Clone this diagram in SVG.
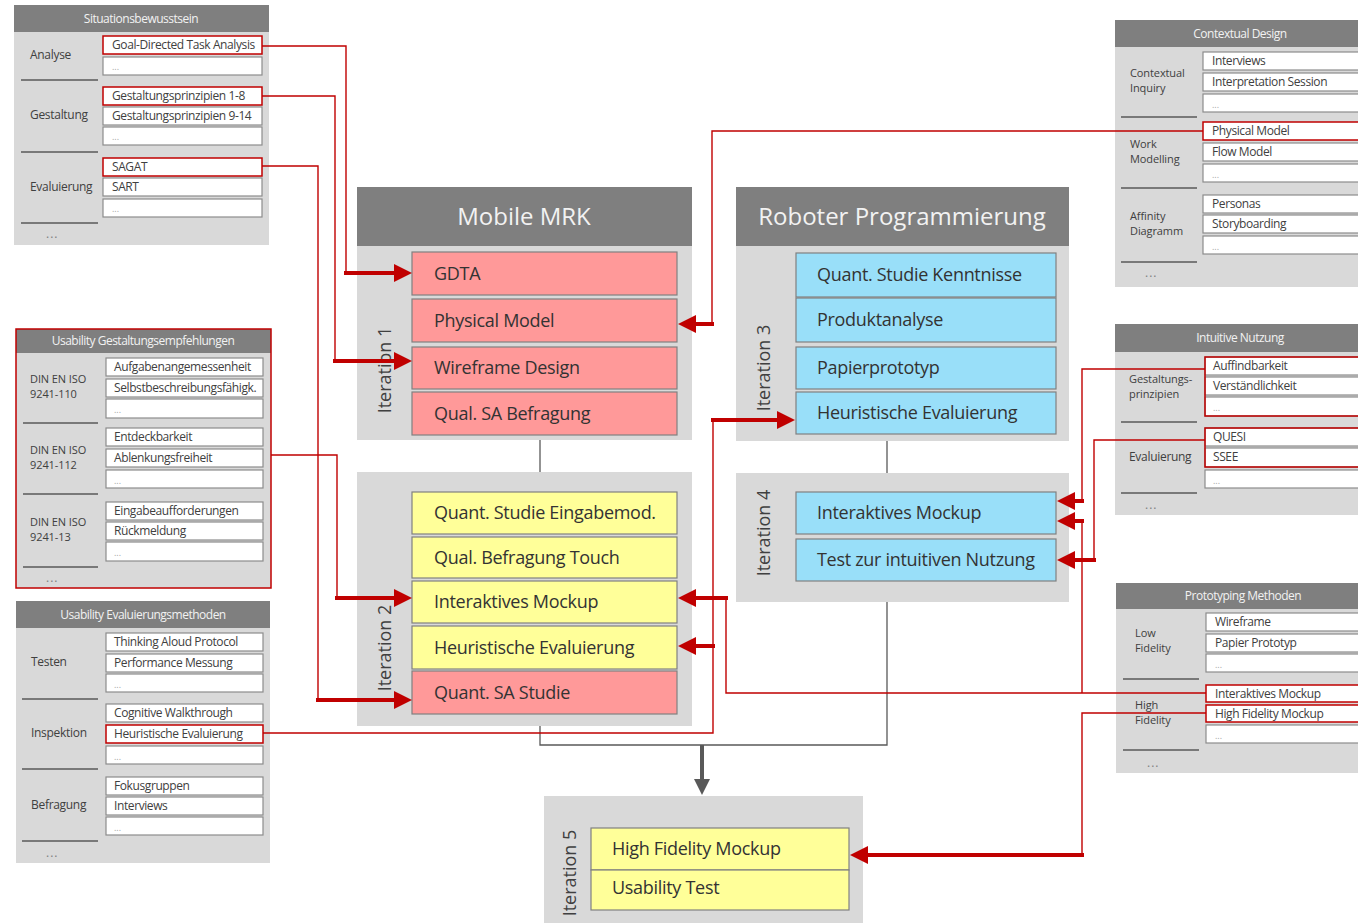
<svg xmlns="http://www.w3.org/2000/svg" width="1358" height="923" viewBox="0 0 1358 923">
  <defs>
    <style>
      .panel { fill: #d9d9d9; }
      .head { fill: #7f7f7f; }
      .htxt { font-family: "Open Sans", "Noto Sans", sans-serif; font-size: 12px; fill: #f2f2f2; text-anchor: middle; letter-spacing: -0.5px; }
      .title { font-family: "Open Sans", "Noto Sans", sans-serif; font-size: 24px; fill: #f2f2f2; text-anchor: middle; }
      .item { fill: #ffffff; stroke: #8c8c8c; stroke-width: 1.2; }
      .itemr { fill: #ffffff; stroke: #c00000; stroke-width: 1.5; }
      .grp { fill: none; stroke: #c00000; stroke-width: 1.5; }
      .itxt { font-family: "Open Sans", "Noto Sans", sans-serif; font-size: 12px; fill: #404040; letter-spacing: -0.4px; }
      .dots { font-family: "Open Sans", "Noto Sans", sans-serif; font-size: 9px; fill: #a6a6a6; }
      .lbl { font-family: "Open Sans", "Noto Sans", sans-serif; font-size: 12px; fill: #404040; letter-spacing: -0.3px; }
      .lbl2 { font-family: "Open Sans", "Noto Sans", sans-serif; font-size: 11px; fill: #404040; letter-spacing: -0.1px; }
      .more { font-family: "Open Sans", "Noto Sans", sans-serif; font-size: 12px; fill: #7f7f7f; letter-spacing: 1px; }
      .sep { stroke: #595959; stroke-width: 1.5; }
      .box { stroke: #808080; stroke-width: 1.2; }
      .red { fill: #ff9999; }
      .yel { fill: #ffff99; }
      .blu { fill: #99dff9; }
      .btxt { font-family: "Open Sans", "Noto Sans", sans-serif; font-size: 18px; fill: #333333; letter-spacing: -0.3px; }
      .iter { font-family: "Open Sans", "Noto Sans", sans-serif; font-size: 18px; fill: #404040; text-anchor: middle; }
      .thin { fill: none; stroke: #c00000; stroke-width: 1.4; }
      .thick { fill: none; stroke: #c00000; stroke-width: 4; marker-end: url(#ah); }
      .gray { fill: none; stroke: #595959; stroke-width: 1.3; }
    </style>
    <marker id="ah" viewBox="0 0 10 10" refX="0" refY="5" markerWidth="4.5" markerHeight="4.5" orient="auto" markerUnits="strokeWidth">
      <path d="M0,0 L10,5 L0,10 z" fill="#c00000"/>
    </marker>
    <marker id="ahg" viewBox="0 0 10 10" refX="0" refY="5" markerWidth="4" markerHeight="4.5" orient="auto" markerUnits="strokeWidth">
      <path d="M0,0 L10,5 L0,10 z" fill="#595959"/>
    </marker>
  </defs>

  <rect width="1358" height="923" fill="#ffffff"/>

  <!-- process flow lines between iterations -->
  <g id="flow">
    <path class="gray" d="M540,440 V472"/>
    <path class="gray" d="M887,441 V473"/>
    <path class="gray" d="M540,726 V745 H887 V602"/>
    <path d="M702,745 V779" fill="none" stroke="#595959" stroke-width="4" marker-end="url(#ahg)"/>
  </g>

  <!-- Situationsbewusstsein -->
  <g id="situationsbewusstsein">
    <rect class="panel" x="14" y="5" width="255" height="240"/>
    <rect class="head" x="14" y="5" width="255" height="27"/>
    <text class="htxt" x="141" y="23">Situationsbewusstsein</text>
    <text class="lbl" x="30" y="59">Analyse</text>
    <text class="lbl" x="30" y="119">Gestaltung</text>
    <text class="lbl" x="30" y="191">Evaluierung</text>
    <text class="more" x="46" y="238">...</text>
    <line class="sep" x1="21" y1="80" x2="98" y2="80"/>
    <line class="sep" x1="21" y1="152" x2="98" y2="152"/>
    <line class="sep" x1="21" y1="223" x2="98" y2="223"/>
    <rect class="itemr" x="103" y="36" width="159" height="18"/>
    <text class="itxt" x="112" y="49">Goal-Directed Task Analysis</text>
    <rect class="item" x="103" y="57" width="159" height="18"/>
    <text class="dots" x="112" y="70">...</text>
    <rect class="itemr" x="103" y="87" width="159" height="18"/>
    <text class="itxt" x="112" y="100">Gestaltungsprinzipien 1-8</text>
    <rect class="item" x="103" y="107" width="159" height="18"/>
    <text class="itxt" x="112" y="120">Gestaltungsprinzipien 9-14</text>
    <rect class="item" x="103" y="127" width="159" height="18"/>
    <text class="dots" x="112" y="140">...</text>
    <rect class="itemr" x="103" y="158" width="159" height="18"/>
    <text class="itxt" x="112" y="171">SAGAT</text>
    <rect class="item" x="103" y="178" width="159" height="18"/>
    <text class="itxt" x="112" y="191">SART</text>
    <rect class="item" x="103" y="199" width="159" height="18"/>
    <text class="dots" x="112" y="212">...</text>
  </g>

  <!-- Usability Gestaltungsempfehlungen -->
  <g id="gestaltungsempfehlungen">
    <rect class="panel" x="16" y="329" width="255" height="259"/>
    <rect class="head" x="16" y="329" width="255" height="24"/>
    <rect x="16" y="329" width="255" height="259" fill="none" stroke="#c00000" stroke-width="1.5"/>
    <text class="htxt" x="143" y="345">Usability Gestaltungsempfehlungen</text>
    <text class="lbl2" x="30" y="383">DIN EN ISO</text>
    <text class="lbl2" x="30" y="398">9241-110</text>
    <text class="lbl2" x="30" y="454">DIN EN ISO</text>
    <text class="lbl2" x="30" y="469">9241-112</text>
    <text class="lbl2" x="30" y="526">DIN EN ISO</text>
    <text class="lbl2" x="30" y="541">9241-13</text>
    <text class="more" x="46" y="582">...</text>
    <line class="sep" x1="23" y1="423" x2="98" y2="423"/>
    <line class="sep" x1="23" y1="494" x2="98" y2="494"/>
    <line class="sep" x1="23" y1="567" x2="98" y2="567"/>
    <rect class="item" x="106" y="358" width="157" height="18"/>
    <text class="itxt" x="114" y="371">Aufgabenangemessenheit</text>
    <rect class="item" x="106" y="379" width="157" height="18"/>
    <text class="itxt" x="114" y="392">Selbstbeschreibungsfähigk.</text>
    <rect class="item" x="106" y="399" width="157" height="19"/>
    <text class="dots" x="114" y="413">...</text>
    <rect class="item" x="106" y="428" width="157" height="18"/>
    <text class="itxt" x="114" y="441">Entdeckbarkeit</text>
    <rect class="item" x="106" y="449" width="157" height="18"/>
    <text class="itxt" x="114" y="462">Ablenkungsfreiheit</text>
    <rect class="item" x="106" y="470" width="157" height="18"/>
    <text class="dots" x="114" y="484">...</text>
    <rect class="item" x="106" y="502" width="157" height="18"/>
    <text class="itxt" x="114" y="515">Eingabeaufforderungen</text>
    <rect class="item" x="106" y="522" width="157" height="18"/>
    <text class="itxt" x="114" y="535">Rückmeldung</text>
    <rect class="item" x="106" y="542" width="157" height="19"/>
    <text class="dots" x="114" y="556">...</text>
  </g>

  <!-- Usability Evaluierungsmethoden -->
  <g id="evaluierungsmethoden">
    <rect class="panel" x="16" y="601" width="254" height="262"/>
    <rect class="head" x="16" y="601" width="254" height="27"/>
    <text class="htxt" x="143" y="619">Usability Evaluierungsmethoden</text>
    <text class="lbl" x="31" y="666">Testen</text>
    <text class="lbl" x="31" y="737">Inspektion</text>
    <text class="lbl" x="31" y="809">Befragung</text>
    <text class="more" x="46" y="857">...</text>
    <line class="sep" x1="22" y1="699" x2="98" y2="699"/>
    <line class="sep" x1="22" y1="769" x2="98" y2="769"/>
    <line class="sep" x1="22" y1="841" x2="98" y2="841"/>
    <rect class="item" x="106" y="633" width="157" height="18"/>
    <text class="itxt" x="114" y="646">Thinking Aloud Protocol</text>
    <rect class="item" x="106" y="654" width="157" height="18"/>
    <text class="itxt" x="114" y="667">Performance Messung</text>
    <rect class="item" x="106" y="674" width="157" height="18"/>
    <text class="dots" x="114" y="688">...</text>
    <rect class="item" x="106" y="704" width="157" height="18"/>
    <text class="itxt" x="114" y="717">Cognitive Walkthrough</text>
    <rect class="itemr" x="106" y="725" width="157" height="18"/>
    <text class="itxt" x="114" y="738">Heuristische Evaluierung</text>
    <rect class="item" x="106" y="746" width="157" height="18"/>
    <text class="dots" x="114" y="760">...</text>
    <rect class="item" x="106" y="777" width="157" height="18"/>
    <text class="itxt" x="114" y="790">Fokusgruppen</text>
    <rect class="item" x="106" y="797" width="157" height="18"/>
    <text class="itxt" x="114" y="810">Interviews</text>
    <rect class="item" x="106" y="817" width="157" height="18"/>
    <text class="dots" x="114" y="831">...</text>
  </g>

  <!-- Contextual Design -->
  <g id="contextual-design">
    <rect class="panel" x="1115" y="20" width="250" height="267"/>
    <rect class="head" x="1115" y="20" width="250" height="27"/>
    <text class="htxt" x="1240" y="38">Contextual Design</text>
    <text class="lbl2" x="1130" y="77">Contextual</text>
    <text class="lbl2" x="1130" y="92">Inquiry</text>
    <text class="lbl2" x="1130" y="148">Work</text>
    <text class="lbl2" x="1130" y="163">Modelling</text>
    <text class="lbl2" x="1130" y="220">Affinity</text>
    <text class="lbl2" x="1130" y="235">Diagramm</text>
    <text class="more" x="1145" y="277">...</text>
    <line class="sep" x1="1121" y1="117" x2="1197" y2="117"/>
    <line class="sep" x1="1121" y1="188" x2="1197" y2="188"/>
    <line class="sep" x1="1121" y1="262" x2="1197" y2="262"/>
    <rect class="item" x="1203" y="52" width="170" height="18"/>
    <text class="itxt" x="1212" y="65">Interviews</text>
    <rect class="item" x="1203" y="73" width="170" height="18"/>
    <text class="itxt" x="1212" y="86">Interpretation Session</text>
    <rect class="item" x="1203" y="94" width="170" height="18"/>
    <text class="dots" x="1212" y="108">...</text>
    <rect class="itemr" x="1203" y="122" width="170" height="18"/>
    <text class="itxt" x="1212" y="135">Physical Model</text>
    <rect class="item" x="1203" y="143" width="170" height="18"/>
    <text class="itxt" x="1212" y="156">Flow Model</text>
    <rect class="item" x="1203" y="164" width="170" height="18"/>
    <text class="dots" x="1212" y="178">...</text>
    <rect class="item" x="1203" y="195" width="170" height="18"/>
    <text class="itxt" x="1212" y="208">Personas</text>
    <rect class="item" x="1203" y="215" width="170" height="18"/>
    <text class="itxt" x="1212" y="228">Storyboarding</text>
    <rect class="item" x="1203" y="236" width="170" height="18"/>
    <text class="dots" x="1212" y="250">...</text>
  </g>

  <!-- Intuitive Nutzung -->
  <g id="intuitive-nutzung">
    <rect class="panel" x="1115" y="324" width="250" height="191"/>
    <rect class="head" x="1115" y="324" width="250" height="28"/>
    <text class="htxt" x="1240" y="342">Intuitive Nutzung</text>
    <text class="lbl2" x="1129" y="383">Gestaltungs-</text>
    <text class="lbl2" x="1129" y="398">prinzipien</text>
    <text class="lbl" x="1129" y="461">Evaluierung</text>
    <text class="more" x="1145" y="509">...</text>
    <line class="sep" x1="1121" y1="422" x2="1197" y2="422"/>
    <line class="sep" x1="1121" y1="493" x2="1197" y2="493"/>
    <rect class="item" x="1205" y="357" width="170" height="18"/>
    <text class="itxt" x="1213" y="370">Auffindbarkeit</text>
    <rect class="item" x="1205" y="377" width="170" height="18"/>
    <text class="itxt" x="1213" y="390">Verständlichkeit</text>
    <rect class="item" x="1205" y="397" width="170" height="19"/>
    <text class="dots" x="1213" y="411">...</text>
    <rect class="grp" x="1205" y="357" width="170" height="59"/>
    <rect class="item" x="1205" y="428" width="170" height="18"/>
    <text class="itxt" x="1213" y="441">QUESI</text>
    <rect class="item" x="1205" y="448" width="170" height="19"/>
    <text class="itxt" x="1213" y="461">SSEE</text>
    <rect class="grp" x="1205" y="428" width="170" height="39"/>
    <rect class="item" x="1205" y="470" width="170" height="18"/>
    <text class="dots" x="1213" y="484">...</text>
  </g>

  <!-- Prototyping Methoden -->
  <g id="prototyping-methoden">
    <rect class="panel" x="1116" y="583" width="250" height="190"/>
    <rect class="head" x="1116" y="583" width="250" height="26"/>
    <text class="htxt" x="1243" y="600">Prototyping Methoden</text>
    <text class="lbl2" x="1135" y="637">Low</text>
    <text class="lbl2" x="1135" y="652">Fidelity</text>
    <text class="lbl2" x="1135" y="709">High</text>
    <text class="lbl2" x="1135" y="724">Fidelity</text>
    <text class="more" x="1147" y="767">...</text>
    <line class="sep" x1="1123" y1="679" x2="1199" y2="679"/>
    <line class="sep" x1="1123" y1="750" x2="1199" y2="750"/>
    <rect class="item" x="1206" y="613" width="170" height="18"/>
    <text class="itxt" x="1215" y="626">Wireframe</text>
    <rect class="item" x="1206" y="634" width="170" height="18"/>
    <text class="itxt" x="1215" y="647">Papier Prototyp</text>
    <rect class="item" x="1206" y="654" width="170" height="18"/>
    <text class="dots" x="1215" y="668">...</text>
    <rect class="itemr" x="1206" y="685" width="170" height="17"/>
    <text class="itxt" x="1215" y="698">Interaktives Mockup</text>
    <rect class="itemr" x="1206" y="705" width="170" height="17"/>
    <text class="itxt" x="1215" y="718">High Fidelity Mockup</text>
    <rect class="item" x="1206" y="725" width="170" height="18"/>
    <text class="dots" x="1215" y="739">...</text>
  </g>

  <!-- Mobile MRK, Iteration 1 -->
  <g id="mobile-mrk">
    <rect class="panel" x="357" y="187" width="335" height="253"/>
    <rect class="head" x="357" y="187" width="335" height="59"/>
    <text class="title" x="524" y="225">Mobile MRK</text>
    <text class="iter" transform="translate(391,370) rotate(-90)">Iteration 1</text>
    <rect class="box red" x="412" y="252" width="265" height="43"/>
    <text class="btxt" x="434" y="280">GDTA</text>
    <rect class="box red" x="412" y="299" width="265" height="43"/>
    <text class="btxt" x="434" y="327">Physical Model</text>
    <rect class="box red" x="412" y="347" width="265" height="42"/>
    <text class="btxt" x="434" y="374">Wireframe Design</text>
    <rect class="box red" x="412" y="392" width="265" height="43"/>
    <text class="btxt" x="434" y="420">Qual. SA Befragung</text>
  </g>

  <!-- Iteration 2 -->
  <g id="iteration-2">
    <rect class="panel" x="357" y="472" width="335" height="254"/>
    <text class="iter" transform="translate(391,648) rotate(-90)">Iteration 2</text>
    <rect class="box yel" x="412" y="492" width="265" height="42"/>
    <text class="btxt" x="434" y="519">Quant. Studie Eingabemod.</text>
    <rect class="box yel" x="412" y="537" width="265" height="41"/>
    <text class="btxt" x="434" y="564">Qual. Befragung Touch</text>
    <rect class="box yel" x="412" y="581" width="265" height="42"/>
    <text class="btxt" x="434" y="608">Interaktives Mockup</text>
    <rect class="box yel" x="412" y="626" width="265" height="43"/>
    <text class="btxt" x="434" y="654">Heuristische Evaluierung</text>
    <rect class="box red" x="412" y="671" width="265" height="43"/>
    <text class="btxt" x="434" y="699">Quant. SA Studie</text>
  </g>

  <!-- Roboter Programmierung, Iteration 3 -->
  <g id="roboter-programmierung">
    <rect class="panel" x="736" y="187" width="333" height="254"/>
    <rect class="head" x="736" y="187" width="333" height="59"/>
    <text class="title" x="902" y="225">Roboter Programmierung</text>
    <text class="iter" transform="translate(770,368) rotate(-90)">Iteration 3</text>
    <rect class="box blu" x="796" y="253" width="260" height="44"/>
    <text class="btxt" x="817" y="281">Quant. Studie Kenntnisse</text>
    <rect class="box blu" x="796" y="298" width="260" height="44"/>
    <text class="btxt" x="817" y="326">Produktanalyse</text>
    <rect class="box blu" x="796" y="347" width="260" height="42"/>
    <text class="btxt" x="817" y="374">Papierprototyp</text>
    <rect class="box blu" x="796" y="392" width="260" height="42"/>
    <text class="btxt" x="817" y="419">Heuristische Evaluierung</text>
  </g>

  <!-- Iteration 4 -->
  <g id="iteration-4">
    <rect class="panel" x="736" y="473" width="333" height="129"/>
    <text class="iter" transform="translate(770,533) rotate(-90)">Iteration 4</text>
    <rect class="box blu" x="796" y="492" width="260" height="42"/>
    <text class="btxt" x="817" y="519">Interaktives Mockup</text>
    <rect class="box blu" x="796" y="539" width="260" height="42"/>
    <text class="btxt" x="817" y="566">Test zur intuitiven Nutzung</text>
  </g>

  <!-- Iteration 5 -->
  <g id="iteration-5">
    <rect class="panel" x="544" y="796" width="319" height="130"/>
    <text class="iter" transform="translate(576,873) rotate(-90)">Iteration 5</text>
    <rect class="box yel" x="591" y="828" width="258" height="42"/>
    <text class="btxt" x="612" y="855">High Fidelity Mockup</text>
    <rect class="box yel" x="591" y="870" width="258" height="40"/>
    <text class="btxt" x="612" y="894">Usability Test</text>
  </g>

  <!-- method-to-activity connectors -->
  <g id="connectors">
    <path class="thin" d="M262,46 H346 V273"/>
    <path class="thick" d="M344,273 H394"/>
    <path class="thin" d="M262,96 H335 V361"/>
    <path class="thick" d="M333,361 H394"/>
    <path class="thin" d="M262,166 H318 V700"/>
    <path class="thick" d="M316,700 H394"/>
    <path class="thin" d="M271,455 H337 V598"/>
    <path class="thick" d="M335,598 H394"/>

    <path class="thin" d="M263,733 H713 V420"/>
    <path class="thick" d="M711,420 H777"/>
    <path class="thick" d="M715,646 H696"/>

    <path class="thin" d="M1203,131 H712 V324"/>
    <path class="thick" d="M714,324 H696"/>

    <path class="thin" d="M1205,369 H1082 V501"/>
    <path class="thick" d="M1084,501 H1075"/>
    <path class="thin" d="M1205,440 H1094 V560"/>
    <path class="thick" d="M1096,560 H1075"/>

    <path class="thin" d="M1206,693 H726 V598"/>
    <path class="thick" d="M728,598 H696"/>
    <path class="thin" d="M1082,693 V521"/>
    <path class="thick" d="M1084,521 H1075"/>

    <path class="thin" d="M1206,713 H1082 V855"/>
    <path class="thick" d="M1084,855 H868"/>
  </g>
</svg>
